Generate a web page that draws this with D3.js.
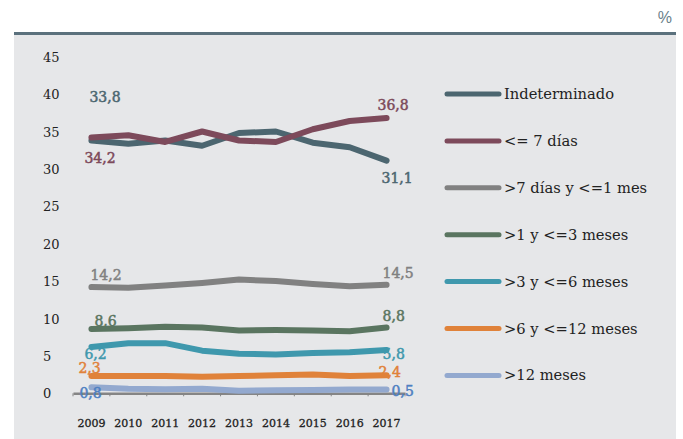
<!DOCTYPE html>
<html><head><meta charset="utf-8">
<script src="https://cdn.jsdelivr.net/npm/d3@7/dist/d3.min.js"></script>
<style>body{margin:0;background:#fff;}svg{display:block;}</style>
</head><body>
<svg id="c" width="683" height="439"></svg>
<script>
const years = ["2009","2010","2011","2012","2013","2014","2015","2016","2017"];
const yTicks = [0,5,10,15,20,25,30,35,40,45];
const seriesNames = ["Indeterminado","<= 7 días",">7 días y <=1 mes",">1 y <=3 meses",">3 y <=6 meses",">6 y <=12 meses",">12 meses"];
const indeterminado = [33.8,33.35,33.8,33.1,34.8,35.0,33.5,32.9,31.1];
const hasta7dias    = [34.2,34.5,33.6,35.0,33.8,33.6,35.3,36.4,36.8];
const hasta1mes     = [14.2,14.1,14.4,14.75,15.2,15.0,14.6,14.3,14.5];
const hasta3meses   = [8.6,8.7,8.9,8.8,8.4,8.45,8.4,8.3,8.8];
const hasta6meses   = [6.2,6.7,6.7,5.7,5.3,5.2,5.4,5.5,5.8];
const hasta12meses  = [2.3,2.3,2.3,2.2,2.3,2.4,2.5,2.3,2.4];
const mas12meses    = [0.8,0.6,0.55,0.6,0.35,0.4,0.45,0.5,0.5];
const firstLabels = ["33,8","34,2","14,2","8,6","6,2","2,3","0,8"];
const lastLabels  = ["31,1","36,8","14,5","8,8","5,8","2,4","0,5"];

const values = [indeterminado,hasta7dias,hasta1mes,hasta3meses,hasta6meses,hasta12meses,mas12meses];
const colors = ["#4c6670","#7d4a5b","#818181","#5a7560","#3f98ad","#e0823a","#93a9cf"];
const labelColors = ["#4c6670","#7d4a5b","#818181","#5a7560","#3f98ad","#e0823a","#4e80c2"];
// label offsets [dx, dy] relative to first / last point
const firstOff = [[-2,-38],[-7,26],[-1,-7],[3,-3],[-7,12],[-13,-3],[-12,11]];
const lastOff  = [[-5,22],[-9,-8],[-4,-7],[-4,-6],[-4,9],[-8,2],[5,6]];

const svg = d3.select("#c");
const serif = "'DejaVu Serif', serif";

// panel
svg.append("rect").attr("x",14).attr("y",35).attr("width",662).attr("height",404).attr("fill","#e6e7e9");
svg.append("rect").attr("x",14).attr("y",32).attr("width",662).attr("height",3).attr("fill","#5b717d");
svg.append("text").attr("x",672).attr("y",23).attr("text-anchor","end")
  .attr("font-family","'Liberation Sans', sans-serif").attr("font-size",16).attr("fill","#6a7f8a").text("%");

const x = d3.scaleBand().domain(years).range([73,405]).padding(0);
const y = d3.scaleLinear().domain([0,45]).range([393.3,56.7]);
const cx = d => x(d) + x.bandwidth()/2;

// y tick labels
svg.append("g").selectAll("text").data(yTicks).join("text")
  .attr("x",43).attr("y",d=>y(d)+5)
  .attr("font-family",serif).attr("font-size",13).attr("fill","#222")
  .text(d=>d);

// x axis
const xAxis = svg.append("g").attr("transform","translate(0,393.3)")
  .call(d3.axisBottom(x).tickSize(0).tickPadding(26).tickSizeOuter(0));
xAxis.select(".domain").attr("stroke","#858585").attr("stroke-width",2.5);
xAxis.selectAll(".tick text").attr("font-family",serif).attr("font-size",11).attr("fill","#222")
  .attr("stroke","#222").attr("stroke-width",0.3);
const bounds = years.map(d=>x(d)).concat([x.range()[1]]);
xAxis.selectAll("line.b").data(bounds).join("line").attr("class","b")
  .attr("x1",d=>d).attr("x2",d=>d).attr("y1",0).attr("y2",3)
  .attr("stroke","#858585").attr("stroke-width",1);

// lines
const line = d3.line().x((d,i)=>cx(years[i])).y(d=>y(d));
const gLines = svg.append("g");
const order = [6,5,4,3,2,0,1];
order.forEach(s=>{
  gLines.append("path").datum(values[s]).attr("d",line)
    .attr("fill","none").attr("stroke",colors[s]).attr("stroke-width",6)
    .attr("stroke-linecap","round").attr("stroke-linejoin","round");
});

// data labels
const gLab = svg.append("g").attr("font-family",serif).attr("font-size",14);
values.forEach((v,s)=>{
  const n = years.length-1;
  [[0,firstLabels[s],firstOff[s]],[n,lastLabels[s],lastOff[s]]].forEach(([i,t,o])=>{
    gLab.append("text").attr("x",cx(years[i])+o[0]).attr("y",y(v[i])+o[1])
      .attr("fill",labelColors[s]).attr("stroke",labelColors[s]).attr("stroke-width",0.5)
      .text(t);
  });
});

// legend
const leg = svg.append("g");
seriesNames.forEach((name,i)=>{
  const ly = 94 + i*46.9;
  leg.append("line").attr("x1",447).attr("x2",499).attr("y1",ly).attr("y2",ly)
    .attr("stroke",colors[i]).attr("stroke-width",5).attr("stroke-linecap","round");
  leg.append("text").attr("x",504).attr("y",ly+5)
    .attr("font-family",serif).attr("font-size",14.7).attr("fill","#222").text(name);
});
</script>
</body></html>
